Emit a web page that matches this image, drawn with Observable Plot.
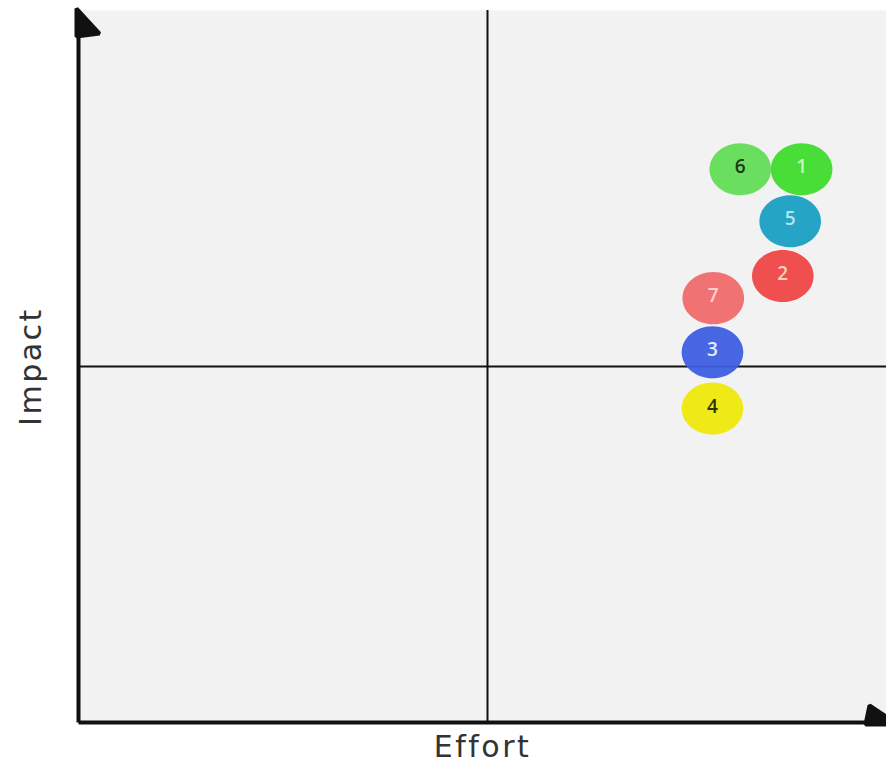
<!DOCTYPE html>
<html>
<head>
<meta charset="utf-8">
<script src="https://cdn.jsdelivr.net/npm/d3@7"></script>
<script src="https://cdn.jsdelivr.net/npm/@observablehq/plot@0.6"></script>
<style>
html,body{margin:0;padding:0;background:#fff;}
#chart{width:886px;height:766px;overflow:hidden;}
</style>
</head>
<body>
<div id="chart"></div>
<script>
const ids = ["1","2","3","4","5","6","7"];
const effort = [8.84, 8.61, 7.75, 7.75, 8.70, 8.09, 7.76];
const impact = [7.77, 6.27, 5.20, 4.41, 7.04, 7.77, 5.96];
const dotColors = ["#3fdc2c", "#ef4646", "#3d5fe0", "#eee80c", "#199fc2", "#62dc55", "#f06a6a"];
const labelColors = ["#c8f5c0", "#fbd0c8", "#e4eaff", "#333300", "#b0e4f2", "#1c3a18", "#fbd2d2"];
const xLabel = "Effort";
const yLabel = "Impact";
const axisMin = 0, axisMid = 5, axisMax = 10;

const points = ids.map((id, i) => ({id, effort: effort[i], impact: impact[i], color: dotColors[i], label: labelColors[i]}));

// ellipse-shaped dot symbol (the reference dots are slightly wider than tall)
const ellipseSymbol = {
  draw(context, size) {
    const r = Math.sqrt(size / Math.PI);
    const rx = r * 1.1, ry = r * 0.93, k = 0.5523;
    context.moveTo(rx, 0);
    context.bezierCurveTo(rx, k * ry, k * rx, ry, 0, ry);
    context.bezierCurveTo(-k * rx, ry, -rx, k * ry, -rx, 0);
    context.bezierCurveTo(-rx, -k * ry, -k * rx, -ry, 0, -ry);
    context.bezierCurveTo(k * rx, -ry, rx, -k * ry, rx, 0);
    context.closePath();
  }
};

function halfArrowUp() {
  const m = d3.create("svg:marker")
    .attr("viewBox", "-40 -30 60 60")
    .attr("markerWidth", 60).attr("markerHeight", 60)
    .attr("markerUnits", "userSpaceOnUse")
    .attr("refX", 0).attr("refY", 0)
    .attr("orient", "auto");
  m.append("path").attr("fill", "#111").attr("d", "M2,-2L-23,21L-26,-2Z");
  return m.node();
}
function halfArrowRight() {
  const m = d3.create("svg:marker")
    .attr("viewBox", "-40 -30 60 60")
    .attr("markerWidth", 60).attr("markerHeight", 60)
    .attr("markerUnits", "userSpaceOnUse")
    .attr("refX", 0).attr("refY", 0)
    .attr("orient", "auto");
  m.append("path").attr("fill", "#111").attr("d", "M2,2L-27,-17L-31,2Z");
  return m.node();
}

const chart = Plot.plot({
  width: 886,
  height: 766,
  marginLeft: 78,
  marginRight: 0,
  marginTop: 10,
  marginBottom: 44,
  x: {domain: [axisMin, axisMax], range: [78, 896], axis: null},
  y: {domain: [axisMin, axisMax], range: [722, 10], axis: null},
  style: {fontFamily: "'Open Sans', sans-serif", background: "#fff"},
  marks: [
    Plot.frame({fill: "#f2f2f2", stroke: null}),
    Plot.ruleX([axisMid], {y1: axisMin, y2: axisMax, stroke: "#111", strokeWidth: 2}),
    Plot.ruleY([axisMid], {x1: axisMin, x2: axisMax, stroke: "#111", strokeWidth: 2}),
    Plot.link([0], {x1: axisMin, y1: axisMin, x2: axisMin, y2: axisMax, stroke: "#111", strokeWidth: 4, markerEnd: halfArrowUp}),
    Plot.link([0], {x1: axisMin, y1: axisMin, x2: axisMax, y2: axisMin, stroke: "#111", strokeWidth: 4, markerEnd: halfArrowRight}),
    Plot.dot(points, {x: "effort", y: "impact", r: 28, symbol: ellipseSymbol, fill: "color", fillOpacity: 0.95}),
    Plot.text(points, {x: "effort", y: "impact", text: "id", fill: "label", fontSize: 19, fontWeight: 600, dy: -2}),
    Plot.text([xLabel], {frameAnchor: "bottom", dy: 34, fontSize: 30, fill: "#333", fontFamily: "DejaVu Sans"}),
    Plot.text([yLabel], {frameAnchor: "left", textAnchor: "middle", dx: -47, rotate: -90, fontSize: 30, fill: "#333", fontFamily: "DejaVu Sans"})
  ]
});
d3.select(chart).selectAll("text")
  .filter(function() { return this.textContent === xLabel || this.textContent === yLabel; })
  .style("letter-spacing", "2.5px");
document.getElementById("chart").appendChild(chart);
</script>
</body>
</html>
